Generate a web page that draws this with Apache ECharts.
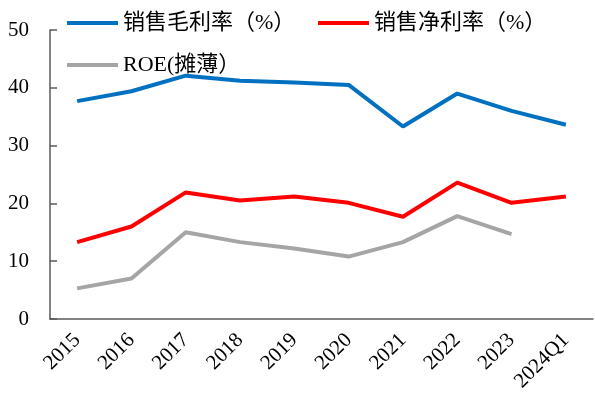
<!DOCTYPE html>
<html>
<head>
<meta charset="utf-8">
<script src="https://cdn.jsdelivr.net/npm/echarts@6/dist/echarts.min.js"></script>
<style>
	html, body { margin: 0; padding: 0; background: #fff; }
	#main { width: 595px; height: 402px; }
</style>
</head>
<body>
<div id="main"></div>
<script>
var years = ['2015', '2016', '2017', '2018', '2019', '2020', '2021', '2022', '2023', '2024Q1'];
var grossMargin = [37.7, 39.4, 42.1, 41.2, 40.9, 40.5, 33.3, 39.0, 36.0, 33.6];
var netMargin = [13.3, 16.0, 21.9, 20.5, 21.2, 20.1, 17.7, 23.6, 20.1, 21.2];
var roe = [5.3, 7.0, 15.0, 13.3, 12.2, 10.8, 13.3, 17.8, 14.7, null];
var yTicks = [0, 10, 20, 30, 40, 50];

var fontMix = "'Liberation Serif', 'Noto Sans CJK SC', serif";

var myChart = echarts.init(document.getElementById('main'));

function legendAt(name, left, top) {
	return {
		data: [name],
		left: left,
		top: top,
		icon: 'rect',
		itemWidth: 51,
		itemHeight: 4,
		itemGap: 6,
		textStyle: { color: '#000', fontSize: 22, fontFamily: fontMix }
	};
}

var option = {
	animation: false,
	backgroundColor: '#fff',
	legend: [
		legendAt('销售毛利率（%）', 62, 7),
		legendAt('销售净利率（%）', 313, 7),
		legendAt('ROE(摊薄）', 62, 49)
	],
	grid: {
		left: 50,
		right: 2,
		top: 30,
		bottom: 83
	},
	xAxis: {
		type: 'category',
		data: years,
		boundaryGap: true,
		axisLine: { lineStyle: { color: '#595959', width: 1.5 } },
		axisTick: { inside: true, length: 6, lineStyle: { color: '#595959', width: 1.5 } },
		axisLabel: {
			interval: 0,
			rotate: 45,
			margin: 18,
			color: '#000',
			fontSize: 21,
			fontFamily: fontMix
		}
	},
	yAxis: {
		type: 'value',
		min: yTicks[0],
		max: yTicks[yTicks.length - 1],
		interval: 10,
		splitLine: { show: false },
		axisLine: { show: true, lineStyle: { color: '#595959', width: 1.5 } },
		axisTick: { show: true, inside: true, length: 7, lineStyle: { color: '#595959', width: 1.5 } },
		axisLabel: {
			margin: 21,
			color: '#000',
			fontSize: 21,
			fontFamily: fontMix
		}
	},
	series: [{
		name: '销售毛利率（%）',
		type: 'line',
		data: grossMargin,
		symbol: 'none',
		color: '#0070C0',
		lineStyle: { width: 4, color: '#0070C0' }
	}, {
		name: '销售净利率（%）',
		type: 'line',
		data: netMargin,
		symbol: 'none',
		color: '#FF0000',
		lineStyle: { width: 4, color: '#FF0000' }
	}, {
		name: 'ROE(摊薄）',
		type: 'line',
		data: roe,
		symbol: 'none',
		color: '#A5A5A5',
		lineStyle: { width: 4, color: '#A5A5A5' }
	}]
};
myChart.setOption(option);
</script>
</body>
</html>
